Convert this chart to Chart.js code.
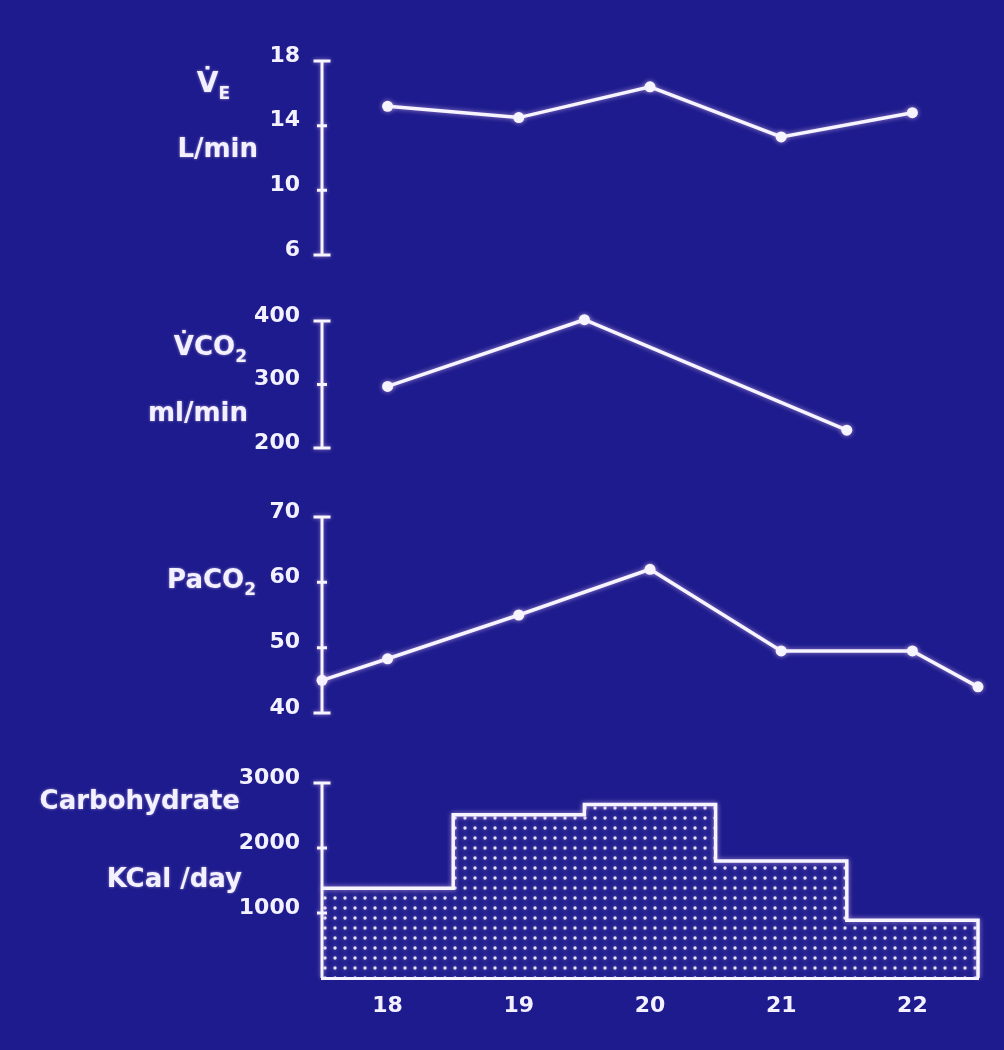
<!DOCTYPE html>
<html>
<head>
<meta charset="utf-8">
<script src="https://cdn.jsdelivr.net/npm/chart.js@4.4.1/dist/chart.umd.min.js"></script>
<style>
  html, body { margin: 0; padding: 0; background: #1d1b8d; }
  #page { position: relative; width: 1004px; height: 1050px; overflow: hidden; background: #1d1b8d; }
  canvas.panel { position: absolute; left: 0; pointer-events: none; }
  .lbl {
    position: absolute; color: #f3f1ff; white-space: nowrap; text-align: right; z-index: 2;
    font: bold 26px 'DejaVu Sans', sans-serif; line-height: 26px;
    text-shadow: 0 0 3px rgba(255, 225, 255, 0.55);
  }
  .lbl sub { font-size: 17px; line-height: 0; vertical-align: -7px; }
  .big { font-size: 28px; }
</style>
</head>
<body>
<div id="page">
  <div class="lbl big" style="right:774px; top:70px;">V&#775;<sub>E</sub></div>
  <div class="lbl" style="right:746px; top:135px;">L/min</div>

  <div class="lbl" style="right:757px; top:333px;">V&#775;CO<sub>2</sub></div>
  <div class="lbl" style="right:756px; top:399px;">ml/min</div>

  <div class="lbl" style="right:748px; top:566px;">PaCO<sub>2</sub></div>

  <div class="lbl" style="right:764px; top:787px;">Carbohydrate</div>
  <div class="lbl" style="right:762px; top:865px;">KCal /day</div>

  <canvas id="veChart" class="panel" width="1004" height="274" style="top:21px"></canvas>
  <canvas id="vco2Chart" class="panel" width="1004" height="207" style="top:281px"></canvas>
  <canvas id="paco2Chart" class="panel" width="1004" height="276" style="top:477px"></canvas>
  <canvas id="carbChart" class="panel" width="1004" height="307" style="top:743px"></canvas>
</div>

<script>
// ─── data (day on x) ───
const DAY_TICKS = [18, 19, 20, 21, 22];

const VE_DAYS = [18, 19, 20, 21, 22];
const VE_VALUES = [15.2, 14.5, 16.4, 13.3, 14.8];
const VE_TICKS = [6, 10, 14, 18];

const VCO2_DAYS = [18, 19.5, 21.5];
const VCO2_VALUES = [297, 402, 228];
const VCO2_TICKS = [200, 300, 400];

const PACO2_DAYS = [17.5, 18, 19, 20, 21, 22, 22.5];
const PACO2_VALUES = [45, 48.3, 55, 62, 49.5, 49.5, 44];
const PACO2_TICKS = [40, 50, 60, 70];

// step starts; the last 0 closes the box on the right edge
const CARB_DAYS = [17.5, 18.5, 19.5, 20.5, 21.5, 22.5];
const CARB_VALUES = [1380, 2510, 2670, 1800, 890, 0];
const CARB_TICKS = [1000, 2000, 3000];

const LINE = '#f6f4ff';
const TEXT = '#f3f1ff';
const FONT = { family: 'DejaVu Sans', size: 22, weight: 'bold' };
const AXIS_W = 322;

function toPoints(xs, ys) {
  return xs.map((x, i) => ({ x: x, y: ys[i] }));
}

function dotPattern() {
  const tile = document.createElement('canvas');
  tile.width = 10; tile.height = 10;
  const t = tile.getContext('2d');
  t.fillStyle = 'rgba(238,236,255,0.95)';
  t.beginPath();
  t.arc(5, 5, 1.7, 0, Math.PI * 2);
  t.fill();
  return t.createPattern(tile, 'repeat');
}

// vertical axis with cross ticks and wider end caps, like the slide
const crossAxis = {
  id: 'crossAxis',
  beforeDatasetsDraw(chart) {
    const ctx = chart.ctx;
    ctx.save();
    ctx.shadowColor = 'rgba(255,215,255,0.6)';
    ctx.shadowBlur = 5;
  },
  afterDatasetsDraw(chart) {
    const ctx = chart.ctx;
    ctx.restore();
    const y = chart.scales.y;
    const x0 = chart.chartArea.left;
    ctx.save();
    ctx.strokeStyle = LINE;
    ctx.lineWidth = 3;
    ctx.shadowColor = 'rgba(255,215,255,0.5)';
    ctx.shadowBlur = 4;
    ctx.beginPath();
    ctx.moveTo(x0, y.top);
    ctx.lineTo(x0, y.bottom);
    y.ticks.forEach(t => {
      const py = y.getPixelForValue(t.value);
      const cap = (t.value === y.max || t.value === y.min);
      const half = cap ? 8.5 : 5;
      ctx.moveTo(x0 - half, py);
      ctx.lineTo(x0 + half, py);
    });
    ctx.stroke();
    ctx.restore();
  }
};

function panel(id, datasets, yMin, yMax, yTicks, showX) {
  const canvas = document.getElementById(id);
  return new Chart(canvas, {
    type: 'line',
    data: { datasets: datasets },
    plugins: [crossAxis],
    options: {
      responsive: false,
      animation: false,
      events: [],
      layout: { padding: { top: 40, right: 26, bottom: showX ? 0 : 40, left: 0 } },
      plugins: { legend: { display: false }, tooltip: { enabled: false } },
      scales: {
        x: {
          type: 'linear',
          min: 17.5,
          max: 22.5,
          display: showX,
          afterBuildTicks: s => { s.ticks = DAY_TICKS.map(v => ({ value: v })); },
          afterFit: s => { if (showX) s.height = 72; },
          grid: { display: false, drawTicks: false },
          border: { display: true, color: LINE, width: 3 },
          ticks: { color: TEXT, font: FONT, padding: 15, callback: v => String(v) }
        },
        y: {
          min: yMin,
          max: yMax,
          afterBuildTicks: s => { s.ticks = yTicks.map(v => ({ value: v })); },
          afterFit: s => { s.width = AXIS_W; },
          grid: { display: false, drawTicks: false },
          border: { display: false },
          ticks: { color: TEXT, font: FONT, padding: 22, labelOffset: -5, callback: v => String(v) }
        }
      }
    }
  });
}

function lineSet(xs, ys) {
  return {
    data: toPoints(xs, ys),
    borderColor: LINE,
    borderWidth: 3.5,
    pointRadius: 5.5,
    pointBackgroundColor: LINE,
    pointBorderWidth: 0,
    tension: 0,
    clip: false
  };
}

panel('veChart', [lineSet(VE_DAYS, VE_VALUES)], 6, 18, VE_TICKS, false);
panel('vco2Chart', [lineSet(VCO2_DAYS, VCO2_VALUES)], 200, 400, VCO2_TICKS, false);
panel('paco2Chart', [lineSet(PACO2_DAYS, PACO2_VALUES)], 40, 70, PACO2_TICKS, false);
panel('carbChart', [{
  data: toPoints(CARB_DAYS, CARB_VALUES),
  stepped: true,
  borderColor: LINE,
  borderWidth: 3.5,
  pointRadius: 0,
  backgroundColor: dotPattern(),
  fill: 'origin',
  clip: false
}], 0, 3000, CARB_TICKS, true);
</script>
</body>
</html>
